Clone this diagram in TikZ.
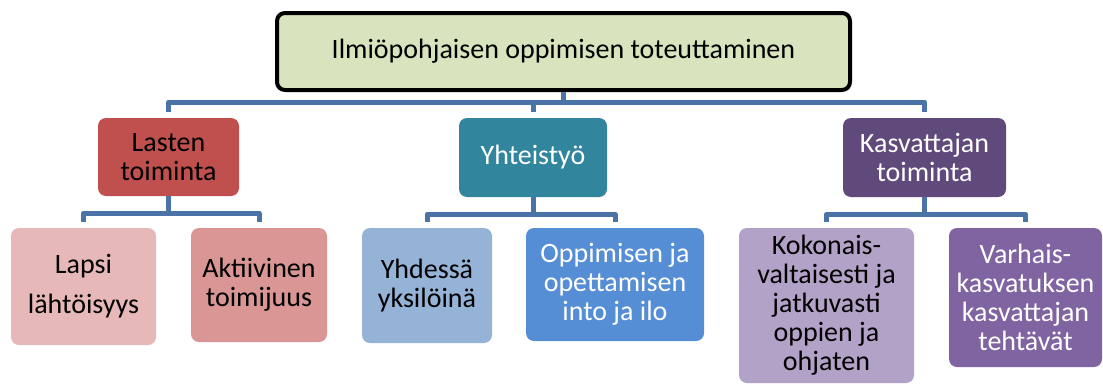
\documentclass[tikz,border=0pt]{standalone}
\usepackage{fontspec}
\setmainfont{Carlito}
\definecolor{topfill}{HTML}{D7E4BD}
\definecolor{connblue}{HTML}{4A74A8}
\definecolor{lastenred}{HTML}{C0504D}
\definecolor{yhteisteal}{HTML}{31859C}
\definecolor{kasvpurple}{HTML}{604A7B}
\definecolor{lapsipink}{HTML}{E6B9B8}
\definecolor{aktiivrose}{HTML}{D99694}
\definecolor{yhdessablue}{HTML}{95B3D7}
\definecolor{oppimblue}{HTML}{558ED5}
\definecolor{kokonlilac}{HTML}{B3A2C7}
\definecolor{varhviolet}{HTML}{8064A2}
\begin{document}
\begin{tikzpicture}[x=1pt,y=-1pt,line join=round]
		\tikzset{box/.style={rounded corners=8pt, inner sep=0pt, align=center,
				font=\fontsize{28}{29}\selectfont},
			conn/.style={connblue, line width=5pt},
			gap/.style={yshift=6pt}}
		\useasboundingbox (0,0) rectangle (1103,383);
		% top
		\node[box, draw=black, line width=4pt, fill=topfill, minimum width=573pt, minimum height=77pt]
			(top) at (563.5,51.5) {Ilmiöpohjaisen oppimisen toteuttaminen};
		% level 1
		\node[box, fill=lastenred, minimum width=141pt, minimum height=78pt]
			(lasten) at (168.5,157) {Lasten\\toiminta};
		\node[box, fill=yhteisteal, text=white, minimum width=148pt, minimum height=79pt]
			(yhteis) at (533,157.5) {Yhteistyö};
		\node[box, fill=kasvpurple, text=white, minimum width=163pt, minimum height=79pt]
			(kasv) at (924.5,157.5) {Kasvattajan\\toiminta};
		% level 2
		\node[box, fill=lapsipink, minimum width=145pt, minimum height=117pt]
			(lapsi) at (83.5,286.5) {Lapsi\\[11pt]lähtöisyys};
		\node[box, fill=aktiivrose, minimum width=136pt, minimum height=114pt]
			(aktiiv) at (259,285) {Aktiivinen\\toimijuus};
		\node[box, fill=yhdessablue, minimum width=130pt, minimum height=115pt]
			(yhdessa) at (427,285.5) {Yhdessä\\yksilöinä};
		\node[box, fill=oppimblue, text=white, minimum width=178pt, minimum height=113pt]
			(oppim) at (615,284.5) {Oppimisen ja\\opettamisen\\into ja ilo};
		\node[box, fill=kokonlilac, minimum width=175pt, minimum height=155pt]
			(kokon) at (826.5,305.5) {Kokonais-\\valtaisesti ja\\jatkuvasti\\oppien ja\\ohjaten};
		\node[box, fill=varhviolet, text=white, minimum width=153pt, minimum height=139pt]
			(varh) at (1025.5,297.5) {Varhais-\\kasvatuksen\\kasvattajan\\tehtävät};
		% connectors
		\draw[conn] (top.south) -- ++(0,10) coordinate (bus);
		\draw[conn] ([gap]lasten.north) |- (bus) -| ([gap]kasv.north);
		\draw[conn] (bus -| yhteis.north) -- ([gap]yhteis.north);
		\foreach \p/\a/\b in {lasten/lapsi/aktiiv, yhteis/yhdessa/oppim, kasv/kokon/varh}{
			\draw[conn] (\p.south) -- ++(0,17) coordinate (\p-bus);
			\draw[conn] ([gap]\a.north) |- (\p-bus) -| ([gap]\b.north);
		}
\end{tikzpicture}
\end{document}
